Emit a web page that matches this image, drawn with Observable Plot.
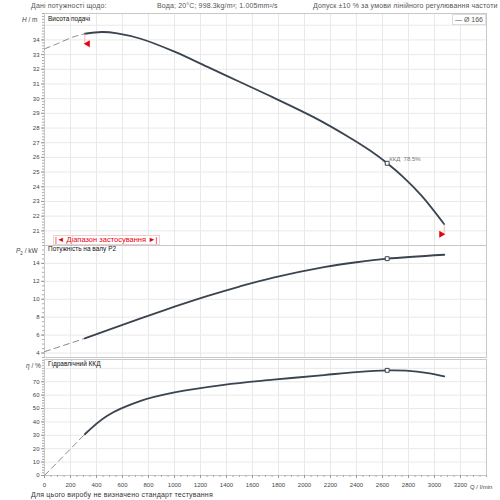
<!DOCTYPE html>
<html><head><meta charset="utf-8">
<script src="https://cdn.jsdelivr.net/npm/d3@7"></script>
<script src="https://cdn.jsdelivr.net/npm/@observablehq/plot@0.6"></script>
<style>
body{margin:0;background:#fff;}
#c{position:relative;width:500px;height:500px;overflow:hidden;background:#fff;font-family:"Liberation Sans",Arial,sans-serif;}
.a{position:absolute;white-space:nowrap;line-height:1;}
.svgw{position:absolute;left:0;}
</style></head>
<body><div id="c"></div>
<script>
// ---- data ----
const X_TICKS = [0,200,400,600,800,1000,1200,1400,1600,1800,2000,2200,2400,2600,2800,3000,3200];
const Q_RANGE = [310, 3075];          // application range (l/min)
const Q_HEAD = [0, 100, 220, 310, 440, 560, 740, 1000, 1250, 1500, 1750, 2070, 2330, 2510, 2636, 2760, 2900, 3075];
const HEAD   = [33.39, 33.75, 34.2, 34.42, 34.54, 34.45, 34.08, 33.2, 32.18, 31.15, 30.12, 28.74, 27.44, 26.43, 25.6, 24.66, 23.4, 21.45];
const Q_POW  = [0, 310, 740, 1000, 1250, 1500, 1760, 2150, 2400, 2636, 3075];
const POWER  = [4.15, 5.63, 7.87, 9.17, 10.35, 11.42, 12.41, 13.58, 14.13, 14.53, 14.97];
const Q_EFF  = [0, 310, 480, 740, 1000, 1380, 1760, 2150, 2400, 2636, 2780, 2950, 3075];
const EFF    = [0, 30.8, 44.5, 55.7, 62, 67.7, 71.5, 75.0, 77.2, 78.5, 78.3, 76.5, 74.0];
const Q_BEP = 2636, H_BEP = 25.6, P_BEP = 14.53, EFF_BEP = 78.5;
const H_TICKS = [21,22,23,24,25,26,27,28,29,30,31,32,33,34];
const P_TICKS = [4,6,8,10,12,14];
const EFF_TICKS = [0,10,20,30,40,50,60,70];

const LINE = "#3a4450";
const rows = (qs, vs) => qs.map((q,i)=>({q, v: vs[i]}));
const dashedPart = r => r.filter(d => d.q <= Q_RANGE[0]);
const solidPart = r => r.filter(d => d.q >= Q_RANGE[0]);

function panel(o){
  const r = rows(o.q, o.v);
  const marks = [
    Plot.gridX(X_TICKS, {stroke:"#e9e9e9", strokeOpacity:1}),
    Plot.gridY(o.grid, {stroke:"#e9e9e9", strokeOpacity:1}),
    Plot.frame({stroke:"#c8c8c8"}),
    Plot.axisY(o.minor, {tickSize:2, stroke:"#aaa", tickFormat:()=>"", label:null}),
    Plot.axisY(o.ticks, {tickSize:3, tickPadding:2, stroke:"#999", fill:"#444", fontSize:6, label:null}),
    Plot.line(dashedPart(r), {x:"q", y:"v", stroke:"#8a8a8a", strokeWidth:1, strokeDasharray:"6,4", curve:"catmull-rom"}),
    Plot.line(solidPart(r), {x:"q", y:"v", stroke:LINE, strokeWidth:1.8, curve:"catmull-rom"}),
    Plot.dot([{q:Q_BEP, v:o.bep}], {x:"q", y:"v", symbol:"square", r:2.2, stroke:LINE, fill:"white", strokeWidth:1})
  ];
  if (o.extra) marks.push(...o.extra(r));
  if (o.xaxis) {
    marks.push(Plot.axisX(d3.range(0, 3401, 50), {tickSize:2, stroke:"#aaa", tickFormat:()=>"", label:null}));
    marks.push(Plot.axisX(X_TICKS, {tickSize:3, tickPadding:4, stroke:"#999", fill:"#444", fontSize:6, tickFormat:d=>String(d), label:null}));
  }
  return Plot.plot({
    width:500, height:o.height, marginLeft:44, marginRight:14, marginTop:o.mt, marginBottom:o.mb,
    x:{domain:[0,3400], axis:null}, y:{domain:o.domain, axis:null},
    style:{fontFamily:"Liberation Sans, Arial, sans-serif", fontSize:"6px", background:"transparent", overflow:"visible"},
    marks
  });
}

const headExtra = r => {
  const s = solidPart(r), a = s[0], b = s[s.length-1];
  const ends = [{q:a.q, v:a.v}, {q:b.q, v:b.v}];
  return [
    Plot.ruleX(ends, {x:"q", y1:"v", y2:d=>d.v-0.65, stroke:"#f3a0a0", strokeWidth:0.7}),
    Plot.dot(ends.slice(0,1), {x:"q", y:"v", dy:10, dx:3, symbol:"triangle", rotate:-90, r:2.6, fill:"#e8000b", stroke:"none"}),
    Plot.dot(ends.slice(1), {x:"q", y:"v", dy:10, dx:-3, symbol:"triangle", rotate:90, r:2.6, fill:"#e8000b", stroke:"none"}),
    Plot.text([{q:Q_BEP, v:H_BEP}], {x:"q", y:"v", text:()=>"ККД  " + EFF_BEP + "%", dx:2, dy:-4, textAnchor:"start", fill:"#777", fontSize:6})
  ];
};

const c = document.getElementById("c");
function place(svg, top){ const d = document.createElement("div"); d.className="svgw"; d.style.top = top+"px"; d.appendChild(svg); c.appendChild(d); }

place(panel({q:Q_HEAD, v:HEAD, domain:[20,35.8], grid:H_TICKS.concat([35]), ticks:H_TICKS, minor:d3.range(20,35.81,0.2),
  bep:H_BEP, height:236, mt:3, mb:1, extra:headExtra}), 10);
place(panel({q:Q_POW, v:POWER, domain:[3.5,16], grid:P_TICKS.concat([16]), ticks:P_TICKS, minor:d3.range(3.5,16.01,0.5),
  bep:P_BEP, height:114, mt:1, mb:1}), 244);
place(panel({q:Q_EFF, v:EFF, domain:[0,86.6], grid:EFF_TICKS.concat([80]), ticks:EFF_TICKS, minor:d3.range(0,86.6,2),
  bep:EFF_BEP, height:135, mt:3, mb:16, xaxis:true}), 356);

function label(html, x, y, style){ const d=document.createElement("div"); d.className="a"; d.style.left=x+"px"; d.style.top=y+"px"; d.style.cssText += style||""; d.innerHTML=html; c.appendChild(d); return d; }
const hdr = "font-size:7px;color:#555;letter-spacing:0.15px;";
label("Дані потужності щодо:", 31, 2, hdr);
label("Вода; 20°C; 998.3kg/m³; 1.005mm²/s", 157, 2, hdr);
label("Допуск ±10 % за умови лінійного регулювання частоти", 313, 2, hdr);
label("<i>H</i> / m", 22, 17, "font-size:6.5px;color:#444;");
label("<i>P</i><sub style='font-size:4.5px'>2</sub> / kW", 16, 248, "font-size:6.5px;color:#444;");
label("<i>η</i> / %", 26, 363, "font-size:6.5px;color:#444;");
label("Висота подачі", 48, 16, "font-size:6.5px;color:#111;");
label("Потужність на валу  P2", 48, 246, "font-size:6.5px;color:#111;");
label("Гідравлічний ККД", 48, 361, "font-size:6.5px;color:#111;");
label("— Ø 166", 452, 14, "font-size:7px;color:#555;border:1px solid #ddd;background:#fff;padding:1px 2px;");
label("Q / l/min", 470, 484, "font-size:6px;color:#444;");
label("Для цього виробу не визначено стандарт тестування", 31, 491, "font-size:7px;color:#333;letter-spacing:0.2px;");
label("<span style='color:#e8000b'>|◄ Діапазон застосування ►|</span>", 53, 235, "font-size:7.5px;border:1px solid #f0d0d0;padding:0 1px;background:#fff;");
</script></body></html>
